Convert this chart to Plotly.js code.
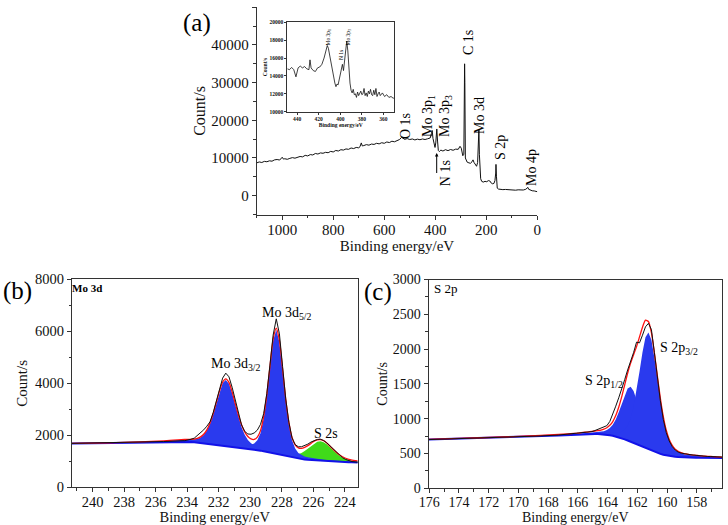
<!DOCTYPE html>
<html><head><meta charset="utf-8">
<script src="https://cdn.plot.ly/plotly-3.0.1.min.js"></script>
<style>html,body{margin:0;padding:0;background:#fff}#chart{width:728px;height:525px}</style>
</head><body><div id="chart"></div>
<script>
// ---------- Panel (a): survey spectrum ----------
const surveyEnergy = [1100,1090,1080,1070,1060,1050,1040,1030,1020,1010,1000,995,990,980,970,960,950,940,930,920,910,900,890,880,870,860,850,840,830,820,810,800,790,780,770,760,750,740,730,720,710,700,695,690,686,680,670,660,650,640,630,620,610,600,590,580,570,560,550,540,532,526,520,510,500,490,480,470,460,450,440,430,420,415,412,409,405,401,398,396,394,391,388,384,378,370,360,350,340,330,320,310,303,298,292,288,286,285,284,282,279,275,268,262,256,252,248,242,238,234,232,230,229,227,225,222,218,212,205,198,192,186,180,175,170,166,163,162,160,157,152,145,135,125,115,105,95,85,75,65,55,45,40,37,34,28,20,12,5,0];
const surveyCounts = [8700,8950,8800,9100,9000,9250,9150,9500,9600,9450,10200,9700,9800,9650,9900,10100,9950,10200,10400,10300,10700,10550,10900,10800,11200,11050,11350,11250,11500,11400,11750,11600,12000,11850,12200,12100,12400,12300,12650,12500,12800,12700,13000,14000,13200,13300,13550,13400,13700,13600,13900,13750,14050,13900,14250,14100,14450,14300,14700,14900,15500,15200,14950,15150,14900,15050,14800,15000,14850,15050,14900,15100,15300,16500,17300,15200,13500,12800,14000,16500,17700,14500,12000,11700,12100,11850,12200,11950,12250,12050,12350,12300,13100,12600,10600,11000,25000,35000,30000,10000,9300,8900,8700,8600,9000,9500,8800,8000,7800,8800,11000,14000,17500,11000,6000,4500,3800,3600,3800,3700,4000,3900,3300,3150,3250,4000,6000,8300,5000,2000,1750,1650,1600,1650,1550,1600,1500,1450,1550,1450,1500,1700,2000,2200,1700,1450,1300,1250,1150,1050];

// inset: Mo 3p / N 1s region
const insetEnergy = [449,447,445,443,441,439,437,435,433,431,429,428,427,425,423,421,419,417,415,413,412,411,409,407,405,404,403,402,401,400,399,398,397,396,395,394,393,392,391,390,389,388,387,386,385,384,383,381,380,379,378,377,376,375,374,373,372,371,370,369,368,367,366,365,364,363,362,361,359,357,355,353,351,350];
const insetCounts = [14800,14700,14950,14700,13900,14900,15100,14900,15050,14800,14700,15800,14900,14600,14500,14900,15000,15300,16000,17000,17400,17100,15800,14200,13200,12800,13100,13000,13600,14200,14900,15300,14600,15800,17200,17900,16800,14800,13200,12400,12100,12500,11900,12000,11600,12200,11800,12300,11900,12000,12600,11800,12100,11700,12300,12000,12500,11900,11800,12400,11900,12600,11700,12000,12200,11800,12000,12100,11700,11900,11600,11700,11500,11600];

// ---------- Panel (b): Mo 3d ----------
const moEnergy = [241.3,239,237,235.5,234.15,233.95,233.75,233.55,233.35,233.15,232.95,232.75,232.55,232.35,232.15,231.95,231.75,231.55,231.35,231.15,230.95,230.75,230.55,230.35,230.15,229.95,229.75,229.55,229.35,229.15,228.95,228.75,228.55,228.35,228.15,227.95,227.75,227.55,227.35,227.15,226.95,226.75,226.55,226.35,226.15,225.95,225.75,225.55,225.35,225.15,224.95,224.75,224.55,224.35,224.15,223.95,223.75,223.55,223.35,223.15];
const moBackground = [1680,1700,1725,1752,1765,1755,1745,1730,1715,1700,1685,1670,1655,1640,1625,1612,1600,1588,1576,1564,1550,1535,1520,1505,1490,1474,1456,1435,1410,1385,1360,1335,1310,1285,1258,1230,1200,1168,1138,1112,1092,1077,1065,1055,1046,1038,1030,1022,1014,1007,1000,994,988,982,977,972,968,964,961,958];
const mo3d32Peak = [5,8,14,26,61,69,84,107,145,216,330,516,790,1163,1605,2052,2408,2540,2408,2052,1605,1163,790,516,330,216,145,107,84,69,61,51,46,41,36,32,28,26,24,22,20,19,18,17,16,15,14,13,12,12,11,11,10,10,9,9,9,8,8,8];
const mo3d52Peak = [3,4,6,9,13,14,15,16,17,19,20,22,24,27,30,32,36,41,46,52,61,72,86,100,124,162,229,377,673,1250,2118,3248,4317,4770,4317,3248,2118,1250,673,377,229,162,124,100,86,72,61,52,46,41,36,32,30,27,24,22,20,19,17,16];
const s2sPeak = [0,0,1,1,2,2,3,3,3,3,3,3,4,4,4,4,5,5,5,6,6,7,7,8,9,9,10,11,12,14,16,18,21,23,26,32,41,56,81,118,172,240,330,430,540,650,722,750,722,645,540,429,324,233,165,115,78,55,41,32];
const moMeasured = [1690,1710,1735,1760,1795,1810,1850,1890,1990,2090,2210,2350,2520,2870,3330,3800,4200,4390,4250,3850,3350,2850,2400,2150,2050,2040,2090,2200,2420,2830,3600,4700,5850,6480,5900,4650,3400,2500,1900,1640,1560,1560,1600,1660,1740,1800,1840,1850,1800,1710,1590,1460,1340,1230,1140,1070,1020,990,975,965];

// ---------- Panel (c): S 2p ----------
const sEnergy = [176.05,174,172,170,168.5,167.3,166.05,165.85,165.65,165.45,165.25,165.05,164.85,164.65,164.45,164.25,164.05,163.85,163.65,163.45,163.25,163.05,162.85,162.65,162.45,162.25,162.05,161.85,161.65,161.45,161.25,161.05,160.85,160.65,160.45,160.25,160.05,159.85,159.65,159.45,159.25,159.05,158.85,158.65,158.45,158.25,158.05,157.85,157.65,157.45,157.25,157.05,156.85,156.65,156.45,156.25];
const sBackground = [700,712,725,738,750,760,770,773,775,777,779,780,780,779,777,774,769,762,754,744,732,718,703,686,668,649,629,615,596,576,557,539,523,508,494,482,472,464,457,452,449,446,444,443,442,441,440,439,438,437,436,436,435,435,434,434];
const s2p12Peak = [1,2,2,3,4,6,10,11,13,14,16,19,21,26,33,45,67,103,160,246,362,499,638,749,790,749,638,499,362,246,160,103,67,45,33,26,21,19,16,14,13,11,10,9,8,7,7,6,6,5,5,5,4,4,4,4];
const s2p32Peak = [2,2,3,4,5,8,12,13,15,16,17,19,21,24,27,30,34,40,45,55,71,96,143,218,341,522,769,1062,1357,1593,1680,1593,1357,1062,769,522,341,218,143,96,71,55,45,40,34,30,27,24,21,19,17,16,15,13,12,11];
const sMeasured = [700,712,725,740,752,765,790,795,800,805,808,815,830,850,860,880,900,960,1060,1180,1300,1420,1560,1700,1820,1950,2100,2090,2200,2320,2370,2280,1950,1580,1260,990,800,680,600,550,520,505,495,490,484,478,472,468,464,460,457,456,453,451,449,448];

// ---------- label text ----------
const surveyLabels = ['O 1s','Mo 3p<sub>1</sub>','Mo 3p<sub>3</sub>','C 1s','Mo 3d','S 2p','Mo 4p','N 1s'];
const insetLabels = ['Mo 3p<sub>1</sub>','N 1s','Mo 3p<sub>3</sub>'];

// ---------- helpers ----------
const W = 728, H = 525;
const SERIF = 'Liberation Serif, Times New Roman, serif';
const px = x => x / W, py = y => 1 - y / H;
const add = (a, ...bs) => a.map((v, i) => bs.reduce((s, b) => s + b[i], v));
const FILLBLUE = 'rgb(42,58,238)', LINEBLUE = '#1212e8', GREEN = 'rgb(64,218,26)';

function axis(extra) {
  return Object.assign({
    showline: true, linecolor: '#333', linewidth: 1, ticks: 'outside', ticklen: 4, tickwidth: 1,
    tickcolor: '#333', showgrid: false, zeroline: false, fixedrange: true,
    tickformat: 'd', exponentformat: 'none',
    tickfont: {family: SERIF, size: 15, color: '#111'}
  }, extra);
}
function minor(dtick, len) { return {ticks: 'outside', ticklen: len || 2.5, tickcolor: '#333', dtick: dtick, showgrid: false}; }
function title(text, size, standoff) { return {text: text, font: {family: SERIF, size: size, color: '#111'}, standoff: standoff}; }
function lab(text, x, y, size, extra) {
  return Object.assign({text: text, xref: 'paper', yref: 'paper', x: px(x), y: py(y), xanchor: 'center', yanchor: 'middle',
    showarrow: false, font: {family: SERIF, size: size, color: '#000'}}, extra || {});
}
const hid = {width: 0};

// ---------- traces ----------
const bgB = moBackground;
const envB = add(moBackground, mo3d32Peak, mo3d52Peak, s2sPeak);
const bgC = sBackground;
const envC = add(sBackground, s2p12Peak, s2p32Peak);

const traces = [
  {x: surveyEnergy, y: surveyCounts, xaxis: 'x', yaxis: 'y', mode: 'lines', line: {color: '#111', width: 1}},
  {x: insetEnergy, y: insetCounts, xaxis: 'x4', yaxis: 'y4', mode: 'lines', line: {color: '#111', width: 0.8}},
  // (b) fills
  {x: moEnergy, y: bgB, xaxis: 'x2', yaxis: 'y2', mode: 'lines', line: hid},
  {x: moEnergy, y: add(bgB, s2sPeak), xaxis: 'x2', yaxis: 'y2', mode: 'lines', line: hid, fill: 'tonexty', fillcolor: GREEN},
  {x: moEnergy, y: bgB, xaxis: 'x2', yaxis: 'y2', mode: 'lines', line: hid},
  {x: moEnergy, y: add(bgB, mo3d32Peak), xaxis: 'x2', yaxis: 'y2', mode: 'lines', line: hid, fill: 'tonexty', fillcolor: FILLBLUE},
  {x: moEnergy, y: bgB, xaxis: 'x2', yaxis: 'y2', mode: 'lines', line: hid},
  {x: moEnergy, y: add(bgB, mo3d52Peak), xaxis: 'x2', yaxis: 'y2', mode: 'lines', line: hid, fill: 'tonexty', fillcolor: FILLBLUE},
  {x: moEnergy, y: bgB, xaxis: 'x2', yaxis: 'y2', mode: 'lines', line: {color: LINEBLUE, width: 2}},
  {x: moEnergy, y: envB, xaxis: 'x2', yaxis: 'y2', mode: 'lines', line: {color: '#ff1010', width: 1.3, shape: 'spline', smoothing: 0.6}},
  {x: moEnergy, y: moMeasured, xaxis: 'x2', yaxis: 'y2', mode: 'lines', line: {color: '#111', width: 1}},
  // (c) fills
  {x: sEnergy, y: bgC, xaxis: 'x3', yaxis: 'y3', mode: 'lines', line: hid},
  {x: sEnergy, y: add(bgC, s2p12Peak), xaxis: 'x3', yaxis: 'y3', mode: 'lines', line: hid, fill: 'tonexty', fillcolor: FILLBLUE},
  {x: sEnergy, y: bgC, xaxis: 'x3', yaxis: 'y3', mode: 'lines', line: hid},
  {x: sEnergy, y: add(bgC, s2p32Peak), xaxis: 'x3', yaxis: 'y3', mode: 'lines', line: hid, fill: 'tonexty', fillcolor: FILLBLUE},
  {x: sEnergy, y: bgC, xaxis: 'x3', yaxis: 'y3', mode: 'lines', line: {color: LINEBLUE, width: 2}},
  {x: sEnergy, y: envC, xaxis: 'x3', yaxis: 'y3', mode: 'lines', line: {color: '#ff1010', width: 1.3, shape: 'spline', smoothing: 0.6}},
  {x: sEnergy, y: sMeasured, xaxis: 'x3', yaxis: 'y3', mode: 'lines', line: {color: '#111', width: 1}}
].map(t => Object.assign({showlegend: false, hoverinfo: 'skip'}, t));

// ---------- annotations ----------
const rot = {textangle: -90};
const annotations = [
  lab('(a)', 196.7, 23, 25),
  lab('(b)', 17.5, 291, 25),
  lab('(c)', 378, 292, 25),
  lab(surveyLabels[0], 405, 126, 14, rot),
  lab(surveyLabels[1], 428, 116, 14, rot),
  lab(surveyLabels[2], 445, 116, 14, rot),
  lab(surveyLabels[3], 468, 43, 14, rot),
  lab(surveyLabels[4], 479, 116, 14, rot),
  lab(surveyLabels[5], 500, 148, 14, rot),
  lab(surveyLabels[6], 531, 168, 14, rot),
  lab(surveyLabels[7], 436.7, 153, 14, {textangle: -90, showarrow: true, arrowhead: 2, arrowsize: 0.7, arrowwidth: 1, arrowcolor: '#000', ax: 0, ay: 20, yanchor: 'top'}),
  lab(insetLabels[0], 327.5, 37, 5.5, rot),
  lab(insetLabels[1], 341, 55, 5.5, rot),
  lab(insetLabels[2], 347.5, 37, 5.5, rot),
  lab('<b>Mo 3d</b>', 87, 288, 11),
  lab('S 2p', 445.5, 288, 13),
  lab('Mo 3d<sub>3/2</sub>', 236, 364, 14),
  lab('Mo 3d<sub>5/2</sub>', 287, 313, 14),
  lab('S 2s', 326, 433, 14),
  lab('S 2p<sub>1/2</sub>', 604, 381, 14),
  lab('S 2p<sub>3/2</sub>', 679, 348, 14)
];

const layout = {
  width: W, height: H, margin: {l: 0, r: 0, t: 0, b: 0}, paper_bgcolor: '#fff', plot_bgcolor: '#fff',
  font: {family: SERIF, color: '#111'},
  showlegend: false, annotations: annotations,
  xaxis: axis({domain: [px(256.7), px(537.3)], anchor: 'y', range: [1100, 0], dtick: 200, tick0: 0, minor: minor(100),
    ticklabelstandoff: -3, title: title('Binding energy/eV', 15, 2)}),
  yaxis: axis({domain: [py(214.5), py(7.3)], anchor: 'x', range: [-5000, 50000], dtick: 10000, tick0: 0, minor: minor(5000),
    title: title('Count/s', 16, 1)}),
  xaxis2: axis({domain: [px(72), px(357.5)], anchor: 'y2', range: [241.3, 223.2], dtick: 2, tick0: 0, minor: minor(1), mirror: true,
    ticklabelstandoff: -3, tickfont: {family: SERIF, size: 14.5, color: '#111'}, title: title('Binding energy/eV', 14.5, 3)}),
  yaxis2: axis({domain: [py(487.3), py(279.3)], anchor: 'x2', range: [0, 8000], dtick: 2000, tick0: 0, minor: minor(1000), mirror: true,
    tickfont: {family: SERIF, size: 14.5, color: '#111'}, title: title('Count/s', 15, 3)}),
  xaxis3: axis({domain: [px(428.5), px(722)], anchor: 'y3', range: [176.05, 156.3], dtick: 2, tick0: 0, minor: minor(1), mirror: true,
    ticklabelstandoff: -3, tickfont: {family: SERIF, size: 14, color: '#111'}, title: title('Binding energy/eV', 14, 3)}),
  yaxis3: axis({domain: [py(488.3), py(279.5)], anchor: 'x3', range: [0, 3000], dtick: 500, tick0: 0, minor: minor(250), mirror: true,
    tickfont: {family: SERIF, size: 14, color: '#111'}, title: title('Count/s', 14, 1)}),
  xaxis4: axis({domain: [px(287.3), px(394.3)], anchor: 'y4', range: [449, 350], dtick: 20, tick0: 0, mirror: true, ticklen: 2,
    tickfont: {family: SERIF, size: 5.5, color: '#111', weight: 'bold'}, title: title('<b>Binding energy/eV</b>', 5.5, 0)}),
  yaxis4: axis({domain: [py(111.7), py(22.3)], anchor: 'x4', range: [10000, 20000], dtick: 2000, tick0: 0, mirror: true, ticklen: 2,
    tickfont: {family: SERIF, size: 5.5, color: '#111', weight: 'bold'}, title: title('<b>Count/s</b>', 5.5, 1)})
};

Plotly.newPlot('chart', traces, layout, {staticPlot: true, displayModeBar: false});
</script></body></html>
